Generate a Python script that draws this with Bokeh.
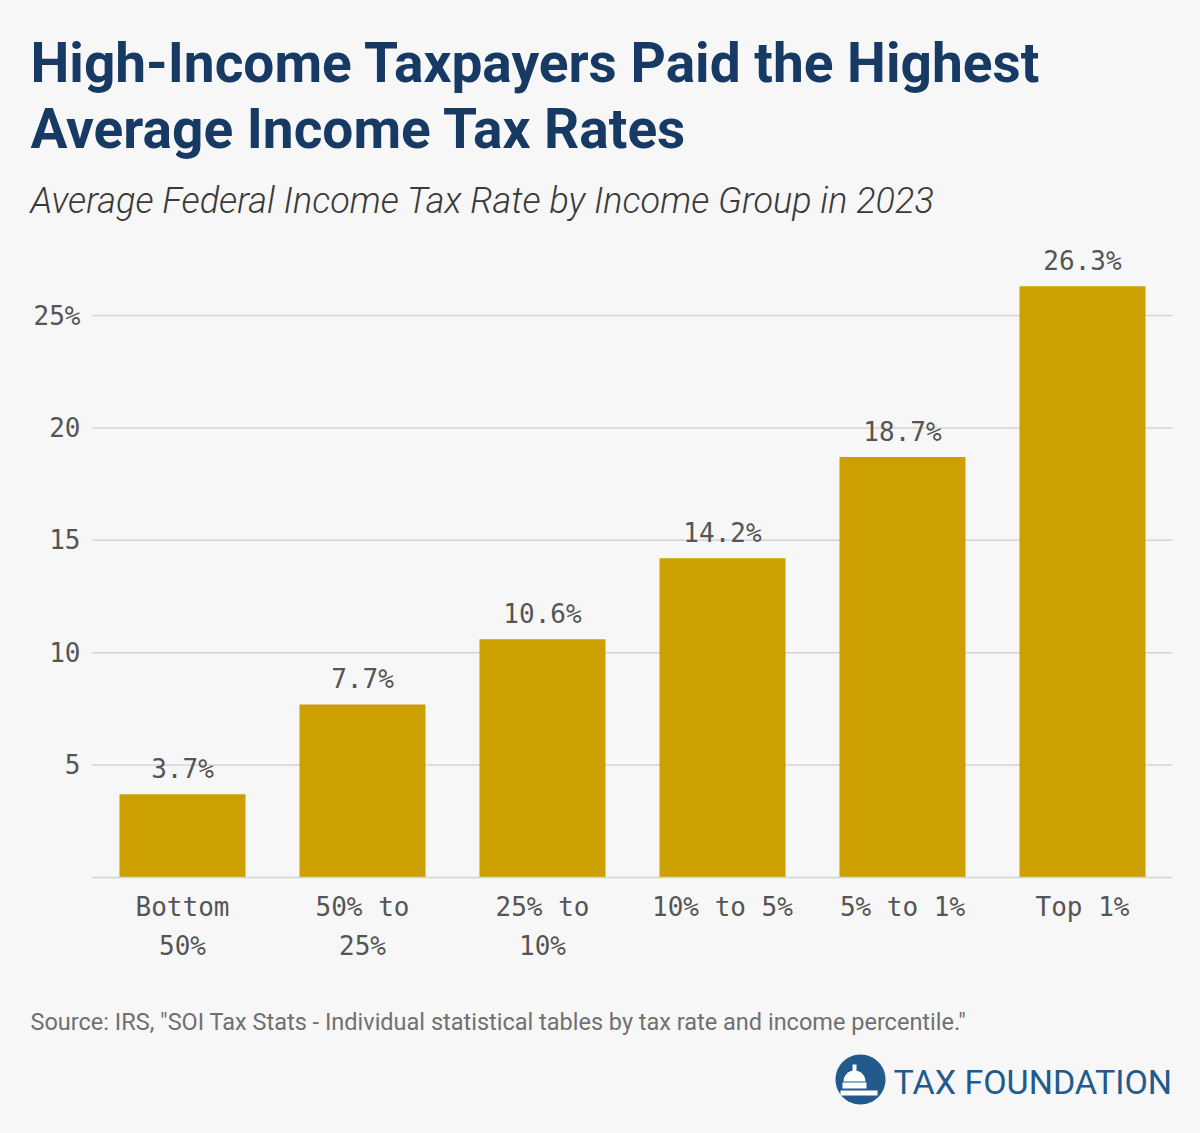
import math
from jinja2 import Template
from bokeh.plotting import figure
from bokeh.models import Range1d, FixedTicker, Label, PolyAnnotation, ColumnDataSource
from bokeh.core.properties import value
from bokeh.embed import file_html
from bokeh.resources import INLINE

# ---- data ----
categories = ["Bottom\n50%", "50% to\n25%", "25% to\n10%", "10% to 5%", "5% to 1%", "Top 1%"]
rates = [3.7, 7.7, 10.6, 14.2, 18.7, 26.3]
rate_labels = ["3.7%", "7.7%", "10.6%", "14.2%", "18.7%", "26.3%"]
y_ticks = [5, 10, 15, 20, 25]
y_tick_labels = {5: "5", 10: "10", 15: "15", 20: "20", 25: "25%"}

title_lines = ["High-Income Taxpayers Paid the Highest", "Average Income Tax Rates"]
subtitle = "Average Federal Income Tax Rate by Income Group in 2023"
source_note = 'Source: IRS, "SOI Tax Stats - Individual statistical tables by tax rate and income percentile."'
brand = "TAX FOUNDATION"

# ---- style / layout ----
BG = "#f7f7f7"
BAR = "#cca000"
NAVY = "#163a63"
BRAND = "#235a8e"
MONO = "DejaVu Sans Mono"
TXT = "#555555"
GRID = "#d4d4d4"

W, H = 1184, 1117
PLOT_LEFT, PLOT_BASE = 92, 877      # pixel position of x=0 / y=0
PX_PER_CAT = 180.0
PX_PER_UNIT = 22.48

n = len(categories)
xs = [i + 0.5 for i in range(n)]

p = figure(width=W, height=H, title=None,
           x_range=Range1d(-PLOT_LEFT / PX_PER_CAT, (W - PLOT_LEFT) / PX_PER_CAT),
           y_range=Range1d(-(H - PLOT_BASE) / PX_PER_UNIT, PLOT_BASE / PX_PER_UNIT),
           output_backend="svg", toolbar_location=None, min_border=0)
p.background_fill_color = BG
p.border_fill_color = BG
p.outline_line_color = None
p.grid.visible = False

# gridlines (from the y ticks), bars, value labels
p.segment(x0=[0] * len(y_ticks), x1=[n] * len(y_ticks), y0=y_ticks, y1=y_ticks,
          line_color=GRID, line_width=1.5)
src = ColumnDataSource(dict(x=xs, rate=rates, lab=rate_labels))
p.vbar(x="x", top="rate", width=0.7, bottom=0, source=src, fill_color=BAR, line_color=None)
p.text(x="x", y="rate", text="lab", source=src, text_align="center", text_baseline="bottom",
       y_offset=-10, text_font=value(MONO), text_font_size="26px", text_color=TXT)

# axes, pinned at data 0
p.yaxis.fixed_location = 0
p.yaxis.ticker = FixedTicker(ticks=y_ticks)
p.yaxis.major_label_overrides = y_tick_labels
p.yaxis.axis_line_color = None
p.yaxis.major_tick_line_color = None
p.yaxis.major_tick_out = 0
p.yaxis.minor_tick_line_color = None
p.yaxis.minor_tick_out = 0
p.yaxis.major_label_standoff = 12
p.yaxis.major_label_text_font = MONO
p.yaxis.major_label_text_font_size = "26px"
p.yaxis.major_label_text_color = TXT

p.xaxis.fixed_location = 0
p.xaxis.bounds = (0, n)
p.xaxis.ticker = FixedTicker(ticks=xs)
p.xaxis.major_label_overrides = {x: c for x, c in zip(xs, categories)}
p.xaxis.axis_line_color = GRID
p.xaxis.axis_line_width = 1.5
p.xaxis.major_tick_line_color = None
p.xaxis.major_tick_out = 0
p.xaxis.minor_tick_line_color = None
p.xaxis.minor_tick_out = 0
p.xaxis.major_label_standoff = 14
p.xaxis.major_label_text_font = MONO
p.xaxis.major_label_text_font_size = "26px"
p.xaxis.major_label_text_color = TXT
p.xaxis.major_label_text_line_height = 1.3


def label(x, y, text, size, color, style="normal", font="Roboto"):
    p.add_layout(Label(x=x, y=y, x_units="canvas", y_units="canvas", text=text,
                       text_font=font, text_font_style=style, text_font_size=f"{size}px",
                       text_color=color, text_baseline="middle", text_align="left"))


# titles
label(30, 62, title_lines[0], 55, NAVY, "bold")
label(30, 128, title_lines[1], 55, NAVY, "bold")
label(30, 200, subtitle, 36.1, "#3a3a3a", "italic", "Roboto Light, Roboto")
# source
label(30, 1021, source_note, 23.5, "#707070")

# logo: circle with a simple white dome
cx, cy, r = 860, 1079, 25
k = 60
p.add_layout(PolyAnnotation(xs=[cx + r * math.cos(2 * math.pi * i / k) for i in range(k)],
                            ys=[cy + r * math.sin(2 * math.pi * i / k) for i in range(k)],
                            xs_units="canvas", ys_units="canvas",
                            fill_color=BRAND, fill_alpha=1, line_color=None))
dx, dy, dr = 854, 1081, 11
dome_x = [dx + dr * math.cos(math.pi * i / 20) for i in range(21)]
dome_y = [dy - dr * math.sin(math.pi * i / 20) for i in range(21)]
p.add_layout(PolyAnnotation(xs=dome_x, ys=dome_y, xs_units="canvas", ys_units="canvas",
                            fill_color="white", fill_alpha=1, line_color=None))
for (x0, y0, x1, y1) in [(852, 1064, 856, 1071), (842, 1082, 866, 1088), (840, 1090, 877, 1095)]:
    p.add_layout(PolyAnnotation(xs=[x0, x1, x1, x0], ys=[y0, y0, y1, y1],
                                xs_units="canvas", ys_units="canvas",
                                fill_color="white", fill_alpha=1, line_color=None))
label(893, 1081, brand, 34, BRAND)

page = Template('{% extends base %}\n'
                '{% block preamble %}<style>html, body { background: #f7f7f7; }</style>{% endblock %}')
open("out.html", "w").write(file_html(p, INLINE, template=page))
